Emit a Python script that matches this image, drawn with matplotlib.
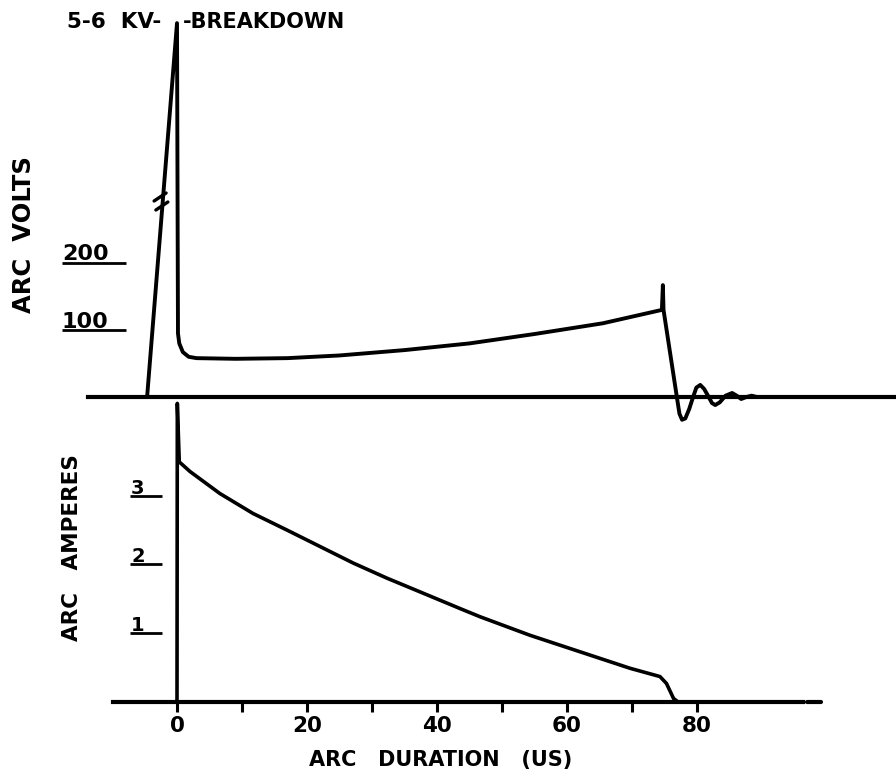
import matplotlib
matplotlib.use("Agg")
import matplotlib.pyplot as plt
import numpy as np

# ---------------- data ----------------
# arc voltage trace (plot units: volts on the lower linear part of the axis;
# the breakdown spike is drawn above an axis break)
volt_t = [-4.6, 0.0, 0.15, 0.35, 0.9, 1.8, 3.0, 9, 17, 25, 35, 45, 55, 65.5,
          74.6, 74.75, 74.85, 76.9, 77.3, 77.7, 78.2, 78.8, 79.4, 79.9, 80.5,
          81.1, 81.8, 82.3, 82.8, 83.5, 84.4, 85.4, 86.1, 86.8, 87.6, 88.4, 89.2]
volt_v = [0, 558, 95, 80, 67, 60, 58, 57, 58, 62, 70, 80, 94, 110,
          130, 167, 130, 0, -25, -34, -32, -18, 0, 14, 18,
          12, 0, -9, -12, -8, 2, 6, 2, -3, 0, 2, 0]

# arc current trace (amperes)
amp_t = [0, 0.05, 0.35, 2, 6.6, 11.7, 16.9, 22, 27.1, 32.3, 37.4, 43.5, 46.6,
         54.3, 62, 69.7, 74.3, 75.3, 76.4, 77.1]
amp_i = [0, 4.34, 3.49, 3.35, 3.03, 2.74, 2.50, 2.26, 2.02, 1.80, 1.60, 1.36, 1.24,
         0.97, 0.73, 0.49, 0.37, 0.27, 0.05, 0]

volt_ticks = [100, 200]
amp_ticks = [1, 2, 3]
time_ticks = [0, 10, 20, 30, 40, 50, 60, 70, 80]
time_labels = ["0", "", "20", "", "40", "", "60", "", "80"]

volt_label = "ARC  VOLTS"
amp_label = "ARC   AMPERES"
time_label = "ARC   DURATION   (US)"
breakdown_left = "5-6  KV-"
breakdown_right = "-BREAKDOWN"

# ---------------- layout ----------------
W, H = 896, 780
fig = plt.figure(figsize=(W / 100, H / 100), dpi=100)
fig.patch.set_facecolor("white")

PX_PER_US = 6.5
X0_PX = 177
XLIM = ((0 - X0_PX) / PX_PER_US, (W - X0_PX) / PX_PER_US)


def dx(px):
    return (px - X0_PX) / PX_PER_US


def fx(px):
    return px / W


def fy(py):
    return 1 - py / H


FONT = "DejaVu Sans"
K = "black"

# ---- voltage panel ----
V_BASE, V_SCALE = 397, 0.67   # pixel row of 0 V, pixels per volt
axv = fig.add_axes([0, fy(440), 1, 440 / H])
axv.set_xlim(*XLIM)
axv.set_ylim((V_BASE - 440) / V_SCALE, V_BASE / V_SCALE)
axv.patch.set_alpha(0)
for s in ["left", "right", "top"]:
    axv.spines[s].set_visible(False)
axv.spines["bottom"].set_position(("data", 0))
axv.spines["bottom"].set_bounds(dx(88), XLIM[1])
axv.spines["bottom"].set_linewidth(3.0)
axv.set_xticks([])
axv.set_yticks([])

axv.plot(volt_t, volt_v, color=K, lw=2.8, solid_joinstyle="round",
         solid_capstyle="round", clip_on=False)

# axis-break marks "//" crossing the rising edge
for py, off in [(197, -3.0), (206, -0.5)]:
    vb = (V_BASE - py) / V_SCALE
    xb = np.interp(vb, volt_v[:2], volt_t[:2]) + off / PX_PER_US
    axv.plot([xb - 6 / PX_PER_US, xb + 6 / PX_PER_US],
             [vb - 4 / V_SCALE, vb + 4 / V_SCALE],
             color=K, lw=2.4, solid_capstyle="round")

# hand-drawn style y ticks
for v in volt_ticks:
    axv.plot([dx(62), dx(126)], [v, v], color=K, lw=2.0, solid_capstyle="butt")
    axv.text(dx(62), v + 2.5 / V_SCALE, str(v), ha="left", va="baseline",
             fontsize=16, fontweight="bold", family=FONT)

# ---- current panel ----
I_BASE, I_SCALE = 702, 68.8
axi = fig.add_axes([0, 0, 1, 400 / H])
axi.set_xlim(*XLIM)
axi.set_ylim((I_BASE - 780) / I_SCALE, (I_BASE - 380) / I_SCALE)
axi.patch.set_alpha(0)
for s in ["left", "right", "top"]:
    axi.spines[s].set_visible(False)
axi.spines["bottom"].set_position(("data", 0))
axi.spines["bottom"].set_bounds(dx(113), dx(803))
axi.spines["bottom"].set_linewidth(3.0)
axi.set_yticks([])
axi.set_xticks(time_ticks)
axi.set_xticklabels(time_labels)
axi.tick_params(axis="x", direction="out", length=7, width=2.2, pad=3,
                labelsize=15.5, color=K)
for lab in axi.get_xticklabels():
    lab.set_fontweight("bold")
    lab.set_family(FONT)
# trailing dash at the end of the time axis
axi.plot([dx(807), dx(821)], [0, 0], color=K, lw=3.0, solid_capstyle="round")

axi.plot(amp_t, amp_i, color=K, lw=2.6, solid_joinstyle="round",
         solid_capstyle="round", clip_on=False)

for a in amp_ticks:
    axi.plot([dx(130), dx(162)], [a, a], color=K, lw=2.0, solid_capstyle="butt")
    axi.text(dx(131), a + 2 / I_SCALE, str(a), ha="left", va="baseline",
             fontsize=14, fontweight="bold", family=FONT)

# ---- labels ----
fig.text(fx(24), fy(235), volt_label, rotation=90, ha="center", va="center",
         fontsize=17.5, fontweight="bold", family=FONT)
fig.text(fx(72), fy(548), amp_label, rotation=90, ha="center", va="center",
         fontsize=15.5, fontweight="bold", family=FONT)
fig.text(fx(441), fy(760), time_label, ha="center", va="center",
         fontsize=15, fontweight="bold", family=FONT)
fig.text(fx(67), fy(22), breakdown_left, ha="left", va="center",
         fontsize=15.5, fontweight="bold", family=FONT)
fig.text(fx(183), fy(22), breakdown_right, ha="left", va="center",
         fontsize=15, fontweight="bold", family=FONT)

fig.savefig("out.png", dpi=100, facecolor="white")
